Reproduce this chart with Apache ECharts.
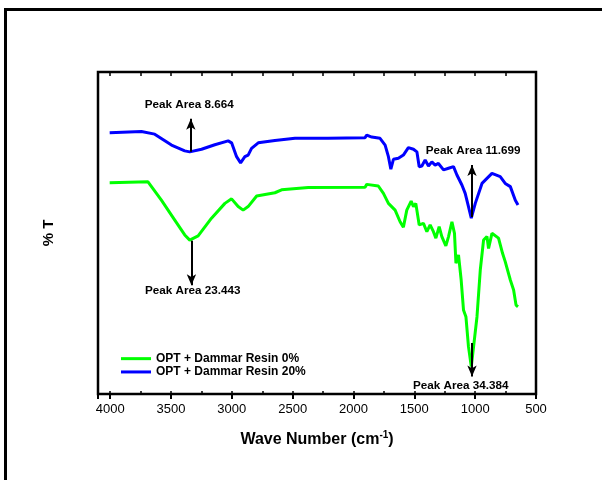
<!DOCTYPE html>
<html>
<head>
<meta charset="utf-8">
<script src="https://cdn.jsdelivr.net/npm/echarts@6/dist/echarts.min.js"></script>
<style>html,body{margin:0;padding:0;background:#fff}#c{width:602px;height:480px}</style>
</head>
<body>
<div id="c"></div>
<script>
// Data (wave number in cm-1, %T in arbitrary units 0-100)
var seriesNames = ['OPT + Dammar Resin 0%', 'OPT + Dammar Resin 20%'];
var xTicks = [4000, 3500, 3000, 2500, 2000, 1500, 1000, 500];

var wn0 = [4004,3689,3579,3469,3387,3346,3277,3167,3057,3002,2948,2907,2866,2796,2646,2591,2372,1905,1891,1796,1754,1713,1658,1617,1590,1562,1526,1507,1488,1460,1425,1397,1370,1343,1323,1296,1274,1241,1219,1191,1170,1158,1137,1115,1096,1076,1055,1032,1013,985,958,931,903,890,862,808,775,753,711,684,664,648];
var t0  = [65.6,65.9,60.2,54.0,49.4,47.8,49.1,54.6,59.2,60.6,58.2,57.1,58.2,61.5,62.5,63.4,64.1,64.2,65.1,64.6,62.3,59.2,57.1,53.5,51.8,57.1,59.9,58.2,59.2,52.5,53.0,50.4,52.5,50.4,48.4,52.0,48.9,46.0,48.9,53.5,49.9,40.6,43.2,35.4,26.1,24.0,14.7,8.5,14.7,24.0,38.5,47.8,48.9,45.2,49.9,48.4,43.7,41.1,35.4,32.3,27.6,27.1];

var wn20 = [4004,3743,3634,3496,3387,3346,3249,3140,3030,3002,2961,2928,2893,2866,2838,2783,2646,2481,2210,1905,1891,1850,1782,1740,1713,1693,1672,1631,1590,1549,1507,1479,1460,1438,1411,1384,1356,1329,1302,1260,1219,1178,1150,1109,1082,1055,1032,999,944,862,794,753,711,670,648];
var t20  = [81.1,81.5,80.7,77.3,75.5,75.2,76.0,77.4,78.6,78.0,73.7,71.8,73.7,74.2,76.3,78.0,78.7,79.4,79.4,79.6,80.4,79.8,79.4,77.3,73.7,69.8,72.9,73.2,74.2,76.5,76.0,75.2,70.6,70.8,72.7,70.8,72.1,71.1,71.6,69.6,70.1,70.6,68.0,64.9,62.3,58.2,54.6,59.2,65.4,68.5,67.5,65.4,64.4,60.2,58.7];

// Peak annotations: arrow (x, from, to) and label
var arrow20 = [[3337, 75.2, 85.5], [1026, 55.0, 71.1]];
var arrow0  = [[3332, 47.6, 33.8], [1026, 15.8, 5.4]];
var label20 = [['Peak Area 8.664', 3350, 89.7], ['Peak Area 11.699', 1017, 75.5]];
var label0  = [['Peak Area 23.443', 3321, 32.0], ['Peak Area 34.384', 1119, 2.6]];

function pairs(xs, ys) { return xs.map(function (x, i) { return [x, ys[i]]; }); }
function arrows(a) { return a.map(function (r) { return [{coord: [r[0], r[1]]}, {coord: [r[0], r[2]]}]; }); }
function labels(l) { return l.map(function (r) { return {name: r[0], coord: [r[1], r[2]]}; }); }

var FONT = '"Liberation Sans", Arial, sans-serif';
var chart = echarts.init(document.getElementById('c'), null, {renderer: 'canvas'});

var markLineCfg = function (a) {
  return {
    silent: true, symbol: ['none', 'arrow'], symbolSize: [7, 11], precision: 4,
    lineStyle: {color: '#000', width: 2, type: 'solid'},
    label: {show: false}, emphasis: {disabled: true},
    data: arrows(a)
  };
};
var markPointCfg = function (l) {
  return {
    silent: true, symbol: 'circle', symbolSize: 0,
    label: {show: true, position: 'inside', formatter: '{b}', color: '#000',
            fontFamily: FONT, fontWeight: 'bold', fontSize: 11.7},
    data: labels(l)
  };
};

chart.setOption({
  animation: false,
  backgroundColor: '#fff',
  grid: {left: 98, right: 66, top: 72, bottom: 86, show: true, borderColor: '#000', borderWidth: 2.5},
  legend: {
    orient: 'vertical', left: 121, top: 352, padding: 0, itemWidth: 30, itemHeight: 3, itemGap: 0,
    icon: 'rect',
    data: seriesNames,
    textStyle: {fontFamily: FONT, fontWeight: 'bold', fontSize: 12, color: '#000', lineHeight: 13.3}
  },
  xAxis: [
    {type: 'value', position: 'bottom', inverse: true, min: 500, max: 4100, interval: 500,
     axisLine: {show: false}, splitLine: {show: false},
     axisTick: {show: true, inside: false, length: 5, lineStyle: {color: '#000', width: 2}},
     axisLabel: {margin: 9, color: '#000', fontFamily: FONT, fontSize: 13,
                 formatter: function (v) { return xTicks.indexOf(v) >= 0 ? String(v) : ''; }},
     name: 'Wave Number (cm{sup|-1})', nameLocation: 'middle', nameGap: 36,
     nameTextStyle: {color: '#000', fontFamily: FONT, fontWeight: 'bold', fontSize: 16,
                     rich: {sup: {fontFamily: FONT, fontWeight: 'bold', fontSize: 10, padding: [0, 0, 9, 0], color: '#000'}}}
    },
    {type: 'value', position: 'top', inverse: true, min: 500, max: 4100, interval: 250,
     axisLine: {show: false}, splitLine: {show: false}, axisLabel: {show: false},
     axisTick: {show: true, inside: true, length: 4, lineStyle: {color: '#000', width: 1.5}}
    },
    {type: 'value', position: 'bottom', inverse: true, min: 500, max: 4100, interval: 250,
     axisLine: {show: false}, splitLine: {show: false}, axisLabel: {show: false},
     axisTick: {show: true, inside: true, length: 3, lineStyle: {color: '#000', width: 1.5}}
    }
  ],
  yAxis: {
    type: 'value', min: 0, max: 100,
    axisLine: {show: false}, axisTick: {show: false}, axisLabel: {show: false}, splitLine: {show: false},
    name: '% T', nameLocation: 'middle', nameGap: 42, nameRotate: 90,
    nameTextStyle: {color: '#000', fontFamily: FONT, fontWeight: 'bold', fontSize: 15}
  },
  series: [
    {name: seriesNames[0], type: 'line', xAxisIndex: 0, symbol: 'none', z: 3,
     lineStyle: {color: '#00ff00', width: 3}, itemStyle: {color: '#00ff00'},
     data: pairs(wn0, t0),
     markLine: markLineCfg(arrow0), markPoint: markPointCfg(label0)},
    {name: seriesNames[1], type: 'line', xAxisIndex: 0, symbol: 'none', z: 3,
     lineStyle: {color: '#0000ff', width: 3}, itemStyle: {color: '#0000ff'},
     data: pairs(wn20, t20),
     markLine: markLineCfg(arrow20), markPoint: markPointCfg(label20)}
  ],
  graphic: [
    {type: 'line', shape: {x1: 4, y1: 9.5, x2: 602, y2: 9.5}, style: {stroke: '#000', lineWidth: 3}},
    {type: 'line', shape: {x1: 5.5, y1: 8, x2: 5.5, y2: 480}, style: {stroke: '#000', lineWidth: 3}}
  ]
});
</script>
</body>
</html>
